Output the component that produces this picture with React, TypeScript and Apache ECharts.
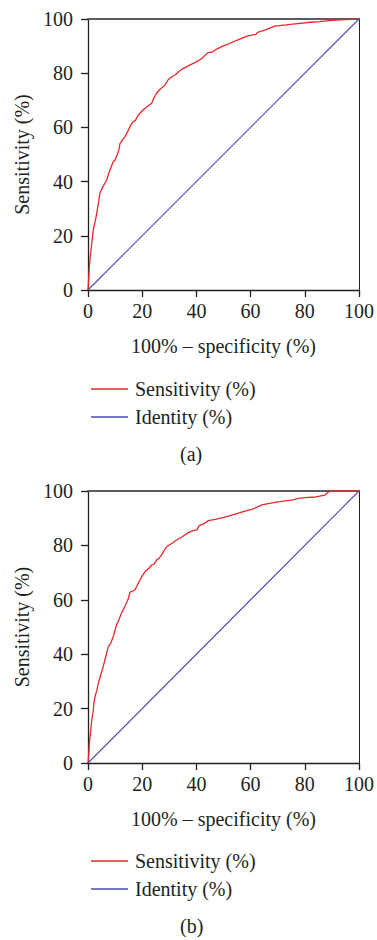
import React, { useEffect, useRef } from "react";
import * as echarts from "echarts";

// ROC curve (a): 100% - specificity, sensitivity
const fprA = [0, 0.3, 0.5, 0.9, 1.4, 1.8, 2.3, 2.7, 3.2, 3.7, 4.4, 5.2, 6.0, 6.9, 7.6, 8.4, 9.3, 10, 10.8, 11.4, 11.8, 12.8, 13.7, 14.9, 15.8, 16.7, 17.5, 18.5, 19.2, 20.5, 22, 23.5, 24.2, 25.3, 26.5, 28.4, 29.5, 30.9, 32.5, 33.5, 35.2, 37.5, 40, 42, 42.6, 44.4, 46, 47.5, 49.3, 51.5, 53.6, 56, 59, 62, 62.5, 63.5, 65.5, 67, 69, 73, 78.2, 82, 85.6, 90, 95, 100];
const sensA = [0, 5, 8.6, 13, 17.2, 21, 24, 25.5, 28.3, 31, 35.7, 37.5, 39, 40.6, 43, 45, 47.3, 48, 50, 51.7, 54, 55.5, 56.6, 59, 61, 62.1, 62.6, 64.5, 65.2, 66.6, 67.8, 68.9, 70.6, 72.6, 74, 75.6, 77.5, 78.7, 79.6, 80.6, 81.8, 83, 84.2, 85.4, 86.1, 87.6, 87.9, 88.9, 89.8, 90.6, 91.6, 92.6, 93.8, 94.3, 95.1, 95.3, 96, 96.6, 97.4, 97.8, 98.4, 98.8, 99.0, 99.5, 99.8, 100];

// ROC curve (b)
const fprB = [0, 0.3, 0.5, 0.9, 1.4, 1.9, 2.2, 2.6, 3.2, 3.8, 4.6, 5.6, 6.4, 7.5, 8.4, 9.3, 10, 10.6, 11.4, 12.2, 13.6, 14.9, 15.5, 17.3, 18, 19.2, 20, 21, 22.5, 23.5, 24.5, 25.3, 26.4, 27.2, 28, 29, 31, 32.7, 34.5, 37, 38.8, 40.2, 41, 42.5, 44.4, 47, 51.2, 54, 57.3, 61, 64.1, 68, 72, 75.7, 77.5, 80, 84, 87.5, 88.6, 90, 100];
const sensB = [0, 3.5, 7.2, 11, 15.8, 19, 22, 24.4, 26.5, 29.3, 32, 35.4, 38.5, 42.8, 44, 46.4, 48.9, 51, 52.6, 54.8, 57.5, 60.5, 62.8, 63.6, 65, 67.3, 68.8, 70.3, 71.6, 72.8, 73.2, 74.6, 75.5, 76.5, 78, 79.5, 80.8, 82, 83, 84.7, 85.4, 85.7, 87.3, 87.8, 89.1, 89.6, 90.6, 91.4, 92.4, 93.4, 94.9, 95.6, 96.3, 96.7, 97.3, 97.6, 97.8, 98.5, 99.6, 100, 100];

const identityX = [0, 100];
const identityY = [0, 100];

const axisTicks = [0, 20, 40, 60, 80, 100];
const panelLabels = ["(a)", "(b)"];
const seriesNames = ["Sensitivity (%)", "Identity (%)"];
const xName = "100% – specificity (%)";
const yName = "Sensitivity (%)";

const FONT = "Liberation Serif";
const TXT = "#231f20";
const RED = "#e8282a";
const BLUE = "#4b4fae";

const zip = (xs: number[], ys: number[]) => xs.map((x, i) => [x, ys[i]]);

export default function App() {
  const ref = useRef<HTMLDivElement>(null);
  useEffect(() => {
    document.body.style.margin = "0";
    if (!ref.current) return;
    const chart = echarts.init(ref.current, undefined, { renderer: "svg" });

    const grids = [
      { left: 88, top: 19, width: 271, height: 271 },
      { left: 88, top: 491, width: 271, height: 272 },
    ];

    const mainX = (gi: number) => ({
      type: "value",
      gridIndex: gi,
      position: "bottom",
      min: 0,
      max: 100,
      interval: 20,
      name: xName,
      nameLocation: "middle",
      nameGap: 46,
      nameTextStyle: { fontFamily: FONT, fontSize: 20, color: TXT },
      axisLine: { show: true, onZero: false, lineStyle: { color: TXT, width: 1.3 } },
      axisTick: { show: true, length: 7, lineStyle: { color: TXT, width: 1.3 } },
      axisLabel: {
        margin: 11,
        fontFamily: FONT,
        fontSize: 20,
        color: TXT,
        formatter: (v: number) => (axisTicks.includes(v) ? String(v) : ""),
      },
      splitLine: { show: false },
    });
    const topX = (gi: number) => ({
      type: "value",
      gridIndex: gi,
      position: "top",
      min: 0,
      max: 100,
      axisLine: { show: true, onZero: false, lineStyle: { color: "#5a5b5d", width: 2 } },
      axisTick: { show: false },
      axisLabel: { show: false },
      splitLine: { show: false },
    });
    const mainY = (gi: number) => ({
      type: "value",
      gridIndex: gi,
      position: "left",
      min: 0,
      max: 100,
      interval: 20,
      name: yName,
      nameLocation: "middle",
      nameGap: 44,
      nameTextStyle: { fontFamily: FONT, fontSize: 20, color: TXT },
      axisLine: { show: true, onZero: false, lineStyle: { color: TXT, width: 1.3 } },
      axisTick: { show: true, length: 7, lineStyle: { color: TXT, width: 1.3 } },
      axisLabel: { margin: 15, fontFamily: FONT, fontSize: 20, color: TXT },
      splitLine: { show: false },
    });
    const rightY = (gi: number) => ({
      type: "value",
      gridIndex: gi,
      position: "right",
      min: 0,
      max: 100,
      axisLine: { show: true, onZero: false, lineStyle: { color: TXT, width: 1 } },
      axisTick: { show: false },
      axisLabel: { show: false },
      splitLine: { show: false },
    });

    const legendBase = {
      orient: "vertical",
      left: 86,
      icon: "rect",
      itemWidth: 37,
      itemHeight: 1.5,
      itemGap: 8,
      selectedMode: false,
      data: [
        { name: seriesNames[0], itemStyle: { color: RED } },
        { name: seriesNames[1], itemStyle: { color: BLUE } },
      ],
      textStyle: { fontFamily: FONT, fontSize: 20, color: TXT, padding: [0, 0, 0, 2] },
    };

    chart.setOption({
      animation: false,
      backgroundColor: "#ffffff",
      grid: grids,
      xAxis: [mainX(0), topX(0), mainX(1), topX(1)],
      yAxis: [mainY(0), rightY(0), mainY(1), rightY(1)],
      legend: [
        { ...legendBase, top: 374 },
        { ...legendBase, top: 846 },
      ],
      title: [
        { text: panelLabels[0], left: 180, top: 444, padding: 0, textStyle: { fontFamily: FONT, fontSize: 20, fontWeight: "normal", color: TXT } },
        { text: panelLabels[1], left: 180, top: 916, padding: 0, textStyle: { fontFamily: FONT, fontSize: 20, fontWeight: "normal", color: TXT } },
      ],
      series: [
        {
          name: seriesNames[0], type: "line", xAxisIndex: 0, yAxisIndex: 0, symbol: "none",
          data: zip(fprA, sensA), lineStyle: { color: RED, width: 1.3, opacity: 1 }, itemStyle: { color: RED }, z: 3,
        },
        {
          name: seriesNames[1], type: "line", xAxisIndex: 0, yAxisIndex: 0, symbol: "none",
          data: zip(identityX, identityY), lineStyle: { color: BLUE, width: 1.1, opacity: 1 }, itemStyle: { color: BLUE }, z: 2,
        },
        {
          name: seriesNames[0], type: "line", xAxisIndex: 2, yAxisIndex: 2, symbol: "none",
          data: zip(fprB, sensB), lineStyle: { color: RED, width: 1.3, opacity: 1 }, itemStyle: { color: RED }, z: 3,
        },
        {
          name: seriesNames[1], type: "line", xAxisIndex: 2, yAxisIndex: 2, symbol: "none",
          data: zip(identityX, identityY), lineStyle: { color: BLUE, width: 1.1, opacity: 1 }, itemStyle: { color: BLUE }, z: 2,
        },
      ],
    });
    return () => chart.dispose();
  }, []);
  return <div ref={ref} style={{ width: 377, height: 940 }} />;
}
